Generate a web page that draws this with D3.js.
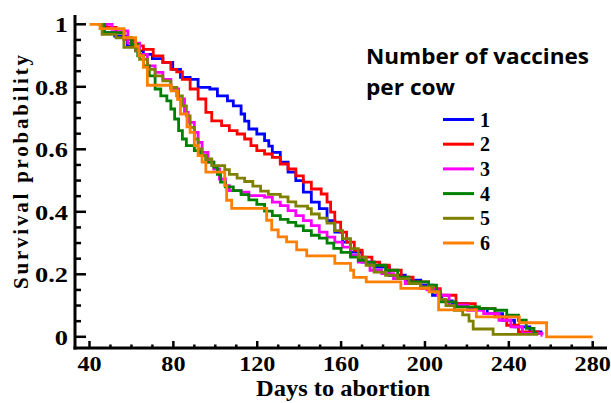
<!DOCTYPE html>
<html>
<head>
<meta charset="utf-8">
<script src="https://cdn.jsdelivr.net/npm/d3@7"></script>
<style>
html,body{margin:0;padding:0;background:#fff;}
svg{display:block;}
</style>
</head>
<body>
<svg id="chart" width="611" height="403"></svg>
<script>
// ---- data (days, survival probability) ----
const groupLabels = ["1","2","3","4","5","6"];
const groupColors = ["#0000ff","#ff0000","#ff00ff","#008000","#808000","#ff8000"];
const xTickValues = [40,80,120,160,200,240,280];
const yTickValues = [0,0.2,0.4,0.6,0.8,1];
const yTickLabels = ["0","0.2","0.4","0.6","0.8","1"];

const vac1 = [[45,1],[47,0.973],[52,0.962],[58,0.93],[62,0.915],[65.7,0.904],[70,0.89],[75,0.878],[79.7,0.856],[83.4,0.83],[88,0.824],[91.8,0.798],[97.4,0.793],[101,0.771],[105.8,0.755],[108.6,0.739],[112.3,0.713],[114,0.69],[116,0.665],[119.8,0.649],[123.5,0.628],[125.5,0.61],[127.2,0.59],[131,0.559],[134.7,0.527],[138.4,0.5],[142,0.463],[145.8,0.431],[149.6,0.41],[153.3,0.372],[157,0.335],[160.7,0.303],[164.5,0.271],[170,0.239],[175.7,0.223],[183,0.197],[190.6,0.181],[198,0.165],[203.6,0.133],[208,0.115],[213,0.106],[220.4,0.09],[229.7,0.074],[237,0.053],[242.7,0.032],[250,0.016],[256,0.016]];
const vac2 = [[45,1],[48,0.99],[52.7,0.973],[56.4,0.952],[61,0.931],[65.7,0.92],[70.4,0.899],[75,0.878],[78.8,0.856],[81.6,0.848],[84.3,0.824],[88,0.793],[91.8,0.761],[95.5,0.718],[98.3,0.691],[103,0.676],[106.7,0.66],[110.4,0.649],[114,0.633],[117,0.612],[119.8,0.596],[123.5,0.585],[127.2,0.574],[131,0.553],[134.7,0.537],[138.4,0.515],[142,0.495],[145.8,0.473],[150.5,0.457],[153.3,0.431],[155,0.399],[157,0.367],[159.8,0.335],[162.6,0.303],[166.3,0.277],[170,0.255],[174.7,0.239],[178.4,0.229],[183,0.213],[188.7,0.191],[194.3,0.176],[201.7,0.154],[207.3,0.133],[214.8,0.106],[224,0.09],[233.4,0.064],[239,0.037],[244.6,0.016],[254,0.011],[256,0.011]];
const vac3 = [[45,1],[50.8,0.984],[56.4,0.979],[58.3,0.94],[63.9,0.904],[67.6,0.867],[71.3,0.846],[75,0.824],[78.8,0.793],[82.5,0.761],[85.3,0.718],[87.1,0.686],[90,0.654],[91.8,0.622],[93.7,0.59],[96.5,0.559],[99.3,0.537],[102,0.505],[104.8,0.484],[106.7,0.468],[112.3,0.463],[116,0.452],[123.5,0.447],[127.2,0.431],[131,0.42],[134.7,0.404],[138.4,0.388],[142,0.372],[145.8,0.356],[149.6,0.335],[153.3,0.319],[157,0.303],[160.7,0.287],[164.5,0.261],[168.2,0.239],[173.8,0.213],[179.4,0.202],[185,0.186],[190.6,0.17],[198,0.154],[201,0.15],[206,0.133],[211.5,0.101],[220.4,0.085],[228,0.074],[235.3,0.053],[241,0.032],[246.5,0.011],[255.8,0.005],[256,0.005]];
const vac4 = [[45,1],[47,0.973],[56.4,0.957],[60,0.936],[63,0.899],[65.7,0.867],[68.5,0.835],[71.3,0.793],[74,0.771],[76.9,0.755],[78.8,0.729],[80.6,0.697],[82.5,0.66],[84.3,0.633],[86.2,0.612],[90,0.596],[92.7,0.58],[95.5,0.559],[99.3,0.543],[101,0.52],[102.5,0.495],[104.8,0.48],[108.6,0.468],[112.3,0.455],[116,0.438],[119.8,0.424],[123.5,0.402],[127.2,0.388],[131,0.376],[134.7,0.366],[138.4,0.355],[142,0.34],[145.8,0.325],[149.6,0.316],[153.3,0.3],[156.5,0.283],[160,0.27],[164.5,0.255],[168.2,0.245],[171.9,0.239],[175.7,0.229],[181.2,0.213],[187,0.191],[192.4,0.176],[201.7,0.165],[205.5,0.144],[207.3,0.112],[214.8,0.096],[226,0.09],[233.4,0.085],[239,0.069],[244.6,0.053],[248.3,0.027],[252,0.011],[254,0.011]];
const vac5 = [[44,1],[46,0.968],[52.7,0.957],[56.4,0.926],[62,0.915],[63.9,0.888],[67.6,0.856],[71.3,0.835],[75,0.819],[78.8,0.798],[81.6,0.771],[84.3,0.739],[86.2,0.707],[88,0.67],[90,0.633],[91.8,0.601],[93.7,0.58],[95.5,0.569],[98.3,0.548],[104.5,0.535],[106.7,0.52],[110.4,0.508],[114,0.497],[117.9,0.482],[121.6,0.466],[125.3,0.456],[131,0.448],[134.7,0.432],[138.4,0.418],[144,0.41],[145.8,0.393],[149.6,0.38],[153.3,0.364],[157,0.34],[160.7,0.314],[164.5,0.282],[168.2,0.255],[171.9,0.229],[175.7,0.207],[181.2,0.197],[187,0.186],[192.4,0.17],[198,0.16],[203.6,0.144],[207,0.12],[210,0.1],[214,0.085],[218,0.07],[221,0.05],[223,0.025],[232.5,0.008],[254,0.008]];
const vac6 = [[40,1],[45,0.986],[56.4,0.957],[62,0.93],[63.5,0.9],[65.7,0.862],[67.6,0.805],[79,0.787],[82,0.76],[83.4,0.713],[86.5,0.672],[88,0.654],[90,0.612],[91.8,0.58],[93.7,0.559],[95.5,0.527],[104.5,0.484],[105.4,0.437],[107.8,0.411],[124.5,0.373],[126.9,0.342],[130,0.32],[134,0.304],[138.8,0.278],[143.6,0.259],[157,0.235],[164.5,0.213],[166,0.19],[172,0.176],[188.5,0.155],[202,0.144],[206.5,0.086],[224.5,0.064],[245,0.045],[258,0],[280,0]];
const seriesData = [vac1,vac2,vac3,vac4,vac5,vac6];

// ---- layout ----
const svg = d3.select("#chart");
const x = d3.scaleLinear().domain([40,280]).range([89.5,592.7]);
const y = d3.scaleLinear().domain([0,1]).range([336.8,24.3]);
const axisX0 = 75, axisY0 = 348, axisXEnd = 607, axisYTop = 15;
const serif = "'Liberation Serif','Times New Roman',serif";

// axis lines
svg.append("line").attr("x1",axisX0).attr("x2",axisX0).attr("y1",axisYTop).attr("y2",axisY0+1.5)
  .attr("stroke","#000").attr("stroke-width",3);
svg.append("line").attr("x1",axisX0-1.5).attr("x2",axisXEnd).attr("y1",axisY0).attr("y2",axisY0)
  .attr("stroke","#000").attr("stroke-width",3);

// y ticks (inward)
const yMinor = d3.range(0,1.0001,0.05);
svg.append("g").selectAll("line").data(yMinor).join("line")
  .attr("x1",axisX0).attr("y1",d=>y(d)).attr("y2",d=>y(d))
  .attr("x2",(d,i)=> i%4===0 ? axisX0+11 : axisX0+6)
  .attr("stroke","#000").attr("stroke-width",2.5);
svg.append("g").selectAll("text").data(yTickValues).join("text")
  .attr("transform",d=>`translate(68,${y(d)}) scale(1.2,1)`)
  .attr("dy","0.35em").attr("text-anchor","end")
  .attr("font-family",serif).attr("font-weight","bold").attr("font-size",22)
  .attr("fill","#000").text((d,i)=>yTickLabels[i]);

// x ticks (inward)
const xMinor = d3.range(40,281,10);
svg.append("g").selectAll("line").data(xMinor).join("line")
  .attr("x1",d=>x(d)).attr("x2",d=>x(d)).attr("y1",axisY0)
  .attr("y2",d=> d%40===0 ? axisY0-7 : axisY0-3.5)
  .attr("stroke","#000").attr("stroke-width",2.5);
svg.append("g").selectAll("text").data(xTickValues).join("text")
  .attr("transform",d=>`translate(${x(d)},371) scale(1.15,1)`)
  .attr("text-anchor","middle")
  .attr("font-family",serif).attr("font-weight","bold").attr("font-size",21)
  .attr("fill","#000").text(d=>d);

// axis titles
svg.append("text").attr("x",343).attr("y",396).attr("text-anchor","middle")
  .attr("font-family",serif).attr("font-weight","bold").attr("font-size",23)
  .attr("textLength",174).attr("lengthAdjust","spacingAndGlyphs")
  .attr("fill","#000").text("Days to abortion");
svg.append("text").attr("transform","translate(28,172) rotate(-90)").attr("text-anchor","middle")
  .attr("font-family",serif).attr("font-weight","bold").attr("font-size",21)
  .attr("textLength",234).attr("lengthAdjust","spacing")
  .attr("fill","#000").text("Survival probability");

// curves
const line = d3.line().x(d=>x(d[0])).y(d=>y(d[1])).curve(d3.curveStepAfter);
svg.append("g").selectAll("path").data(seriesData).join("path")
  .attr("d",line).attr("fill","none")
  .attr("stroke",(d,i)=>groupColors[i]).attr("stroke-width",2.8)
  .attr("stroke-linejoin","miter");

// legend
const sans = "'Open Sans','Noto Sans',sans-serif";
svg.append("text").attr("x",366).attr("y",64)
  .attr("font-family",sans).attr("font-weight","bold").attr("font-size",22)
  .attr("textLength",223).attr("lengthAdjust","spacingAndGlyphs")
  .attr("fill","#000").text("Number of vaccines");
svg.append("text").attr("x",366).attr("y",95)
  .attr("font-family",sans).attr("font-weight","bold").attr("font-size",22)
  .attr("textLength",89).attr("lengthAdjust","spacingAndGlyphs")
  .attr("fill","#000").text("per cow");
const lg = svg.append("g").selectAll("g").data(groupLabels).join("g")
  .attr("transform",(d,i)=>`translate(0,${119.5+i*24.7})`);
lg.append("line").attr("x1",443).attr("x2",474).attr("y1",0).attr("y2",0)
  .attr("stroke",(d,i)=>groupColors[i]).attr("stroke-width",3);
lg.append("text").attr("x",480).attr("y",0).attr("dy","0.35em")
  .attr("font-family",serif).attr("font-weight","bold").attr("font-size",20)
  .attr("fill","#000").text(d=>d);
</script>
</body>
</html>
